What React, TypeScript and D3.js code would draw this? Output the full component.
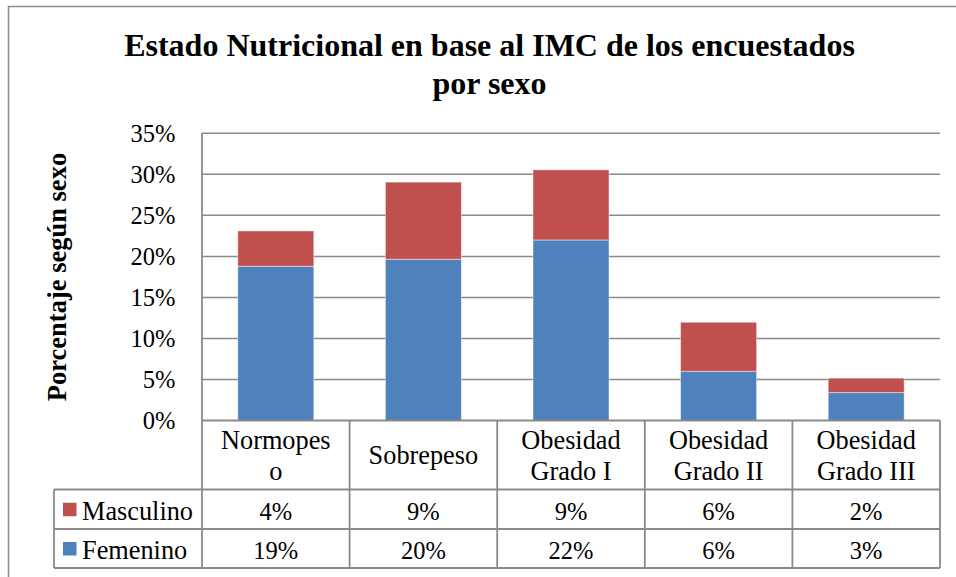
import React from "react";
import * as d3 from "d3";

const categories = ["Normopeso", "Sobrepeso", "Obesidad Grado I", "Obesidad Grado II", "Obesidad Grado III"];
const categoryLines = [["Normopes", "o"], ["Sobrepeso"], ["Obesidad", "Grado I"], ["Obesidad", "Grado II"], ["Obesidad", "Grado III"]];
const femenino = [18.8, 19.65, 22.0, 6.0, 3.4];
const masculino = [4.3, 9.4, 8.55, 5.97, 1.76];
const seriesNames = ["Masculino", "Femenino"];
const yTicks = [0, 5, 10, 15, 20, 25, 30, 35];
const title1 = "Estado Nutricional en base al IMC de los encuestados";
const title2 = "por sexo";
const yTitle = "Porcentaje según sexo";

const BLUE = "#4F81BD";
const RED = "#C0504D";
const GRID = "#8a8a8a";
const FONT = "'Liberation Serif', 'Times New Roman', serif";

export default function App() {
  const W = 956, H = 577;
  const left = 202, right = 940, top = 133.3, bottom = 420.5;
  const y = d3.scaleLinear().domain([0, 35]).range([bottom, top]);
  const x = d3.scaleBand<string>().domain(categories).range([left, right]).padding(0);
  const bw = x.bandwidth();
  const barW = bw * 0.515;

  const data = categories.map((c, i) => ({ cat: c, Femenino: femenino[i], Masculino: masculino[i] }));
  const stack = d3.stack<any>().keys(["Femenino", "Masculino"]);
  const layers = stack(data);
  const colorOf: Record<string, string> = { Femenino: BLUE, Masculino: RED };

  const headerBottom = 489.5, row1Bottom = 529, row2Bottom = 568;
  const legendLeft = 54;
  const fmt = (v: number) => `${Math.round(v)}%`;
  const rowValues: Record<string, number[]> = { Masculino: masculino, Femenino: femenino };
  const rowBounds = [[headerBottom, row1Bottom], [row1Bottom, row2Bottom]];
  const fsVal = 24.5;
  const fsLab = 26.3;

  return (
    <svg width={W} height={H} style={{ position: "absolute", left: 0, top: 0, background: "#fff", fontFamily: FONT }}>
      <rect x={0} y={0} width={W} height={H} fill="#fff" />
      <rect x={8.5} y={6.5} width={W + 20} height={H + 20} fill="none" stroke="#8c8c8c" strokeWidth={1.5} />
      <text x={489.5} y={56} textAnchor="middle" fontSize={32} fontWeight="bold">{title1}</text>
      <text x={489.5} y={94} textAnchor="middle" fontSize={32} fontWeight="bold">{title2}</text>

      <text transform={`translate(65.5,277) rotate(-90)`} textAnchor="middle" fontSize={26.5} fontWeight="bold">{yTitle}</text>

      {yTicks.map(t => (
        <g key={t}>
          {t > 0 && <line x1={left} x2={right} y1={y(t)} y2={y(t)} stroke={GRID} strokeWidth={1.5} />}
          <text x={175.5} y={y(t)} dy="0.36em" textAnchor="end" fontSize={fsVal}>{t}%</text>
        </g>
      ))}

      {layers.map(layer => (
        <g key={layer.key}>
          {layer.map((d, i) => (
            <rect key={i}
              x={(x(categories[i]) as number) + (bw - barW) / 2}
              y={y(d[1])}
              width={barW}
              height={y(d[0]) - y(d[1])}
              fill={colorOf[layer.key]}
              stroke="rgba(255,255,255,0.45)"
              strokeWidth={1}
            />
          ))}
        </g>
      ))}

      {/* axis line */}
      <line x1={left} x2={left} y1={top} y2={row2Bottom} stroke={GRID} strokeWidth={1.8} />
      <line x1={left} x2={right} y1={bottom} y2={bottom} stroke={GRID} strokeWidth={1.8} />

      {/* table lines */}
      {categories.map((c) => (
        <line key={c} x1={(x(c) as number) + bw} x2={(x(c) as number) + bw} y1={bottom} y2={row2Bottom} stroke={GRID} strokeWidth={1.8} />
      ))}
      <line x1={legendLeft} x2={right} y1={headerBottom} y2={headerBottom} stroke={GRID} strokeWidth={1.8} />
      <line x1={legendLeft} x2={right} y1={row1Bottom} y2={row1Bottom} stroke={GRID} strokeWidth={1.8} />
      <line x1={legendLeft} x2={right} y1={row2Bottom} y2={row2Bottom} stroke={GRID} strokeWidth={1.8} />
      <line x1={legendLeft} x2={legendLeft} y1={headerBottom} y2={row2Bottom} stroke={GRID} strokeWidth={1.8} />

      {categories.map((c, i) => {
        const cx = (x(c) as number) + bw / 2;
        const cy = (bottom + headerBottom) / 2;
        const lines = categoryLines[i];
        const lh = 31;
        return (
          <text key={c} textAnchor="middle" fontSize={fsLab}>
            {lines.map((l, j) => (
              <tspan key={j} x={cx} y={cy - ((lines.length - 1) * lh) / 2 + j * lh + 9}>{l}</tspan>
            ))}
          </text>
        );
      })}

      {seriesNames.map((s, r) => {
        const [y0, y1] = rowBounds[r];
        const cy = (y0 + y1) / 2;
        return (
          <g key={s}>
            <rect x={63} y={cy - 6.5} width={13.5} height={13.5} fill={colorOf[s]} />
            <text x={82} y={cy} dy="0.4em" fontSize={fsLab}>{s}</text>
            {rowValues[s].map((v, i) => (
              <text key={i} x={(x(categories[i]) as number) + bw / 2} y={cy} dy="0.42em" textAnchor="middle" fontSize={fsVal}>{fmt(v)}</text>
            ))}
          </g>
        );
      })}
    </svg>
  );
}
